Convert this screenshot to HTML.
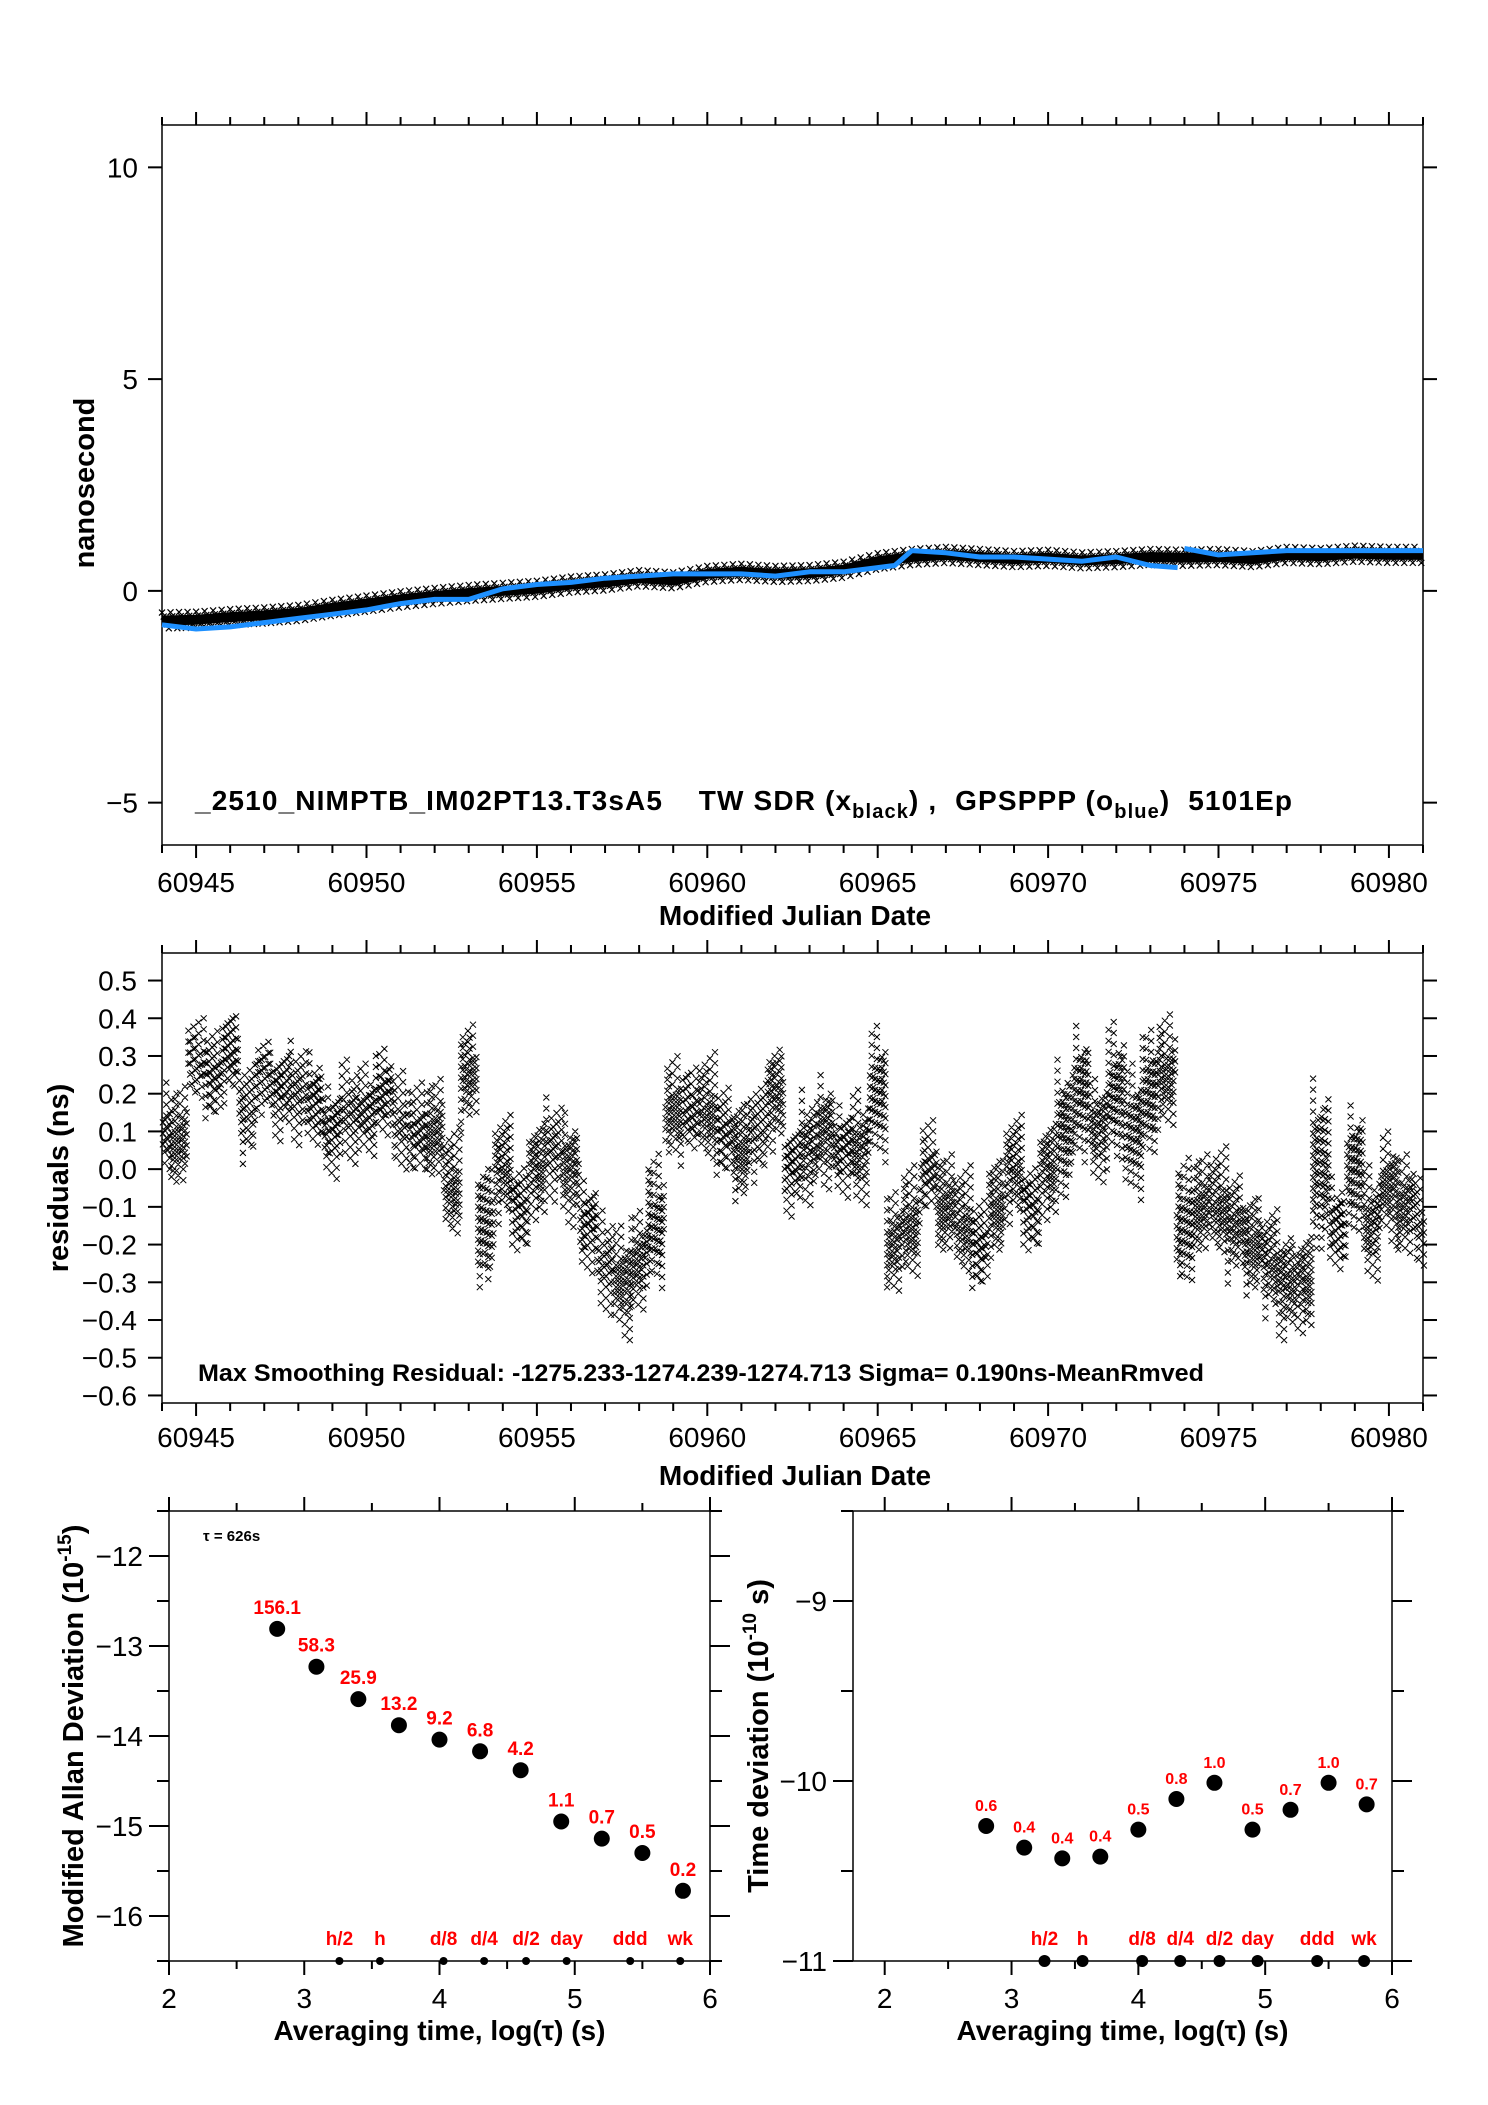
<!DOCTYPE html>
<html><head><meta charset="utf-8"><style>
html,body{margin:0;padding:0;background:#fff}
svg{display:block;font-family:"Liberation Sans",Arial,sans-serif}
</style></head><body>
<svg id="chart" xmlns="http://www.w3.org/2000/svg" width="1488" height="2105" viewBox="0 0 1488 2105">
<rect width="1488" height="2105" fill="#fff"/>
</svg>
<script>
// ---- data ----
const blackMJD = [60944,60945,60946,60947,60948,60949,60950,60951,60952,60953,60954,60955,60956,60957,60958,60959,60960,60961,60962,60963,60964,60965,60966,60967,60968,60969,60970,60971,60972,60973,60974,60975,60976,60977,60978,60979,60980,60981];
const blackVal = [-0.7,-0.68,-0.62,-0.58,-0.52,-0.4,-0.3,-0.2,-0.12,-0.05,0.0,0.05,0.15,0.2,0.3,0.25,0.4,0.45,0.4,0.42,0.5,0.7,0.8,0.85,0.8,0.75,0.78,0.72,0.75,0.8,0.78,0.8,0.75,0.85,0.82,0.88,0.85,0.85];
const blueMJD = [60944,60945,60946,60947,60948,60949,60950,60951,60952,60953,60954,60955,60956,60957,60958,60959,60960,60961,60962,60963,60964,60965,60965.5,60966,60967,60968,60969,60970,60971,60972,60973,60973.8,null,60974,60975,60976,60977,60978,60979,60980,60981];
const blueVal = [-0.8,-0.9,-0.85,-0.75,-0.65,-0.55,-0.45,-0.3,-0.2,-0.2,0.05,0.15,0.2,0.3,0.35,0.4,0.4,0.4,0.35,0.45,0.45,0.55,0.6,0.95,0.9,0.8,0.8,0.75,0.7,0.8,0.6,0.55,null,1.0,0.85,0.9,0.95,0.95,0.95,0.95,0.95];
const residMJD = [];
for (let m = 60944; m <= 60981.001; m += 0.5) residMJD.push(m);
const residCenter = [0.1,0.08,0.28,0.25,0.3,0.15,0.25,0.2,0.2,0.18,0.1,0.15,0.15,0.2,0.12,0.1,0.1,-0.05,0.25,-0.15,0.0,-0.1,0.0,0.05,0.0,-0.15,-0.25,-0.3,-0.25,-0.15,0.15,0.15,0.15,0.1,0.05,0.1,0.2,0.0,0.05,0.1,0.05,0.05,0.2,-0.2,-0.15,0.0,-0.1,-0.15,-0.2,-0.1,0.0,-0.1,0.0,0.1,0.2,0.1,0.2,0.1,0.2,0.25,-0.15,-0.1,-0.1,-0.15,-0.2,-0.25,-0.3,-0.3,0.0,-0.15,0.0,-0.15,-0.05,-0.1,-0.15];
const residSpread = [0.1,0.12,0.08,0.1,0.1,0.1,0.08,0.1,0.1,0.1,0.1,0.1,0.1,0.1,0.1,0.1,0.12,0.12,0.12,0.15,0.12,0.1,0.12,0.1,0.12,0.1,0.1,0.12,0.12,0.15,0.12,0.1,0.12,0.1,0.12,0.1,0.12,0.1,0.12,0.12,0.1,0.12,0.15,0.12,0.12,0.1,0.12,0.12,0.1,0.12,0.12,0.1,0.12,0.15,0.15,0.12,0.15,0.15,0.15,0.12,0.15,0.12,0.12,0.12,0.12,0.12,0.12,0.12,0.2,0.1,0.15,0.12,0.12,0.12,0.1];
const mdevX = [2.80,3.09,3.40,3.70,4.00,4.30,4.60,4.90,5.20,5.50,5.80];
const mdevY = [-12.81,-13.23,-13.59,-13.88,-14.04,-14.17,-14.38,-14.95,-15.14,-15.30,-15.72];
const mdevLbl = ["156.1","58.3","25.9","13.2","9.2","6.8","4.2","1.1","0.7","0.5","0.2"];
const tdevX = [2.80,3.10,3.40,3.70,4.00,4.30,4.60,4.90,5.20,5.50,5.80];
const tdevY = [-10.25,-10.37,-10.43,-10.42,-10.27,-10.10,-10.01,-10.27,-10.16,-10.01,-10.13];
const tdevLbl = ["0.6","0.4","0.4","0.4","0.5","0.8","1.0","0.5","0.7","1.0","0.7"];
const markX = [3.26,3.56,4.03,4.33,4.64,4.94,5.41,5.78];
const markLbl = ["h/2","h","d/8","d/4","d/2","day","ddd","wk"];
const mjdTicks = [60945,60950,60955,60960,60965,60970,60975,60980];
const nsTicks = [10,5,0,-5];
const resTicks = [0.5,0.4,0.3,0.2,0.1,0.0,-0.1,-0.2,-0.3,-0.4,-0.5,-0.6];
const logTicks = [2,3,4,5,6];
const mdevTicks = [-12,-13,-14,-15,-16];
const tdevTicks = [-9,-10,-11];

// ---- helpers ----
const NS = "http://www.w3.org/2000/svg";
const svg = document.getElementById("chart");
function el(tag, attrs, parent) {
  const e = document.createElementNS(NS, tag);
  for (const k in attrs) e.setAttribute(k, attrs[k]);
  (parent || svg).appendChild(e);
  return e;
}
function scale(d0, d1, r0, r1) { return v => r0 + (v - d0) / (d1 - d0) * (r1 - r0); }
function fmtMinus(v, dec) { const s = dec ? Math.abs(v).toFixed(dec) : String(Math.abs(v)); return (v < 0 ? "\u2212" : "") + s; }

function panel(name, x0, x1, y0, y1) {
  const g = el("g", {});
  
  
  const r = el("rect", {x: x0, y: y0, width: x1 - x0, height: y1 - y0, fill: "none", stroke: "#000", "stroke-width": 1.5}, g);
  
  
  return g;
}
function tick(g, x1, y1, x2, y2, w) {
  const t = el("line", {x1, y1, x2, y2, stroke: "#000", "stroke-width": w || 2}, g);
  
  
}
function label(g, x, y, txt, opts, name) {
  const t = el("text", Object.assign({x, y, "font-size": 28, fill: "#000"}, opts || {}), g);
  t.textContent = txt;
  
  
  return t;
}

// ================= Panel 1: time series =================
{
  const X0 = 162, X1 = 1423, Y0 = 125, Y1 = 845;
  const sx = scale(60944, 60981, X0, X1), sy = scale(-6, 11, Y1, Y0);
  const g = panel("time-series-panel", X0, X1, Y0, Y1);
  for (let d = 60944; d <= 60981; d++) {
    const maj = d % 5 === 0, L = maj ? 13 : 8;
    tick(g, sx(d), Y0, sx(d), Y0 - L);
    tick(g, sx(d), Y1, sx(d), Y1 + L);
  }
  mjdTicks.forEach(v => label(g, sx(v), 892, String(v), {"text-anchor": "middle"}, 'x-tick-label'));
  nsTicks.forEach(v => {
    tick(g, X0, sy(v), X0 - 14, sy(v));
    tick(g, X1, sy(v), X1 + 14, sy(v));
    label(g, 138, sy(v) + 10, fmtMinus(v), {"text-anchor": "end"}, 'y-tick-label');
  });
  label(g, 795, 925, "Modified Julian Date", {"text-anchor": "middle", "font-weight": "bold", "font-size": 28}, 'x-axis-title');
  label(g, 0, 0, "nanosecond", {"text-anchor": "middle", "font-weight": "bold", "font-size": 29, transform: "translate(94,483) rotate(-90)"}, 'y-axis-title');
  // black band
  const bp = blackMJD.map((m, i) => sx(m).toFixed(1) + "," + sy(blackVal[i]).toFixed(1)).join(" ");
  const band = el("polyline", {points: bp, fill: "none", stroke: "#000", "stroke-width": 10, "stroke-linejoin": "round"}, g);
  
  
  let cp = "";
  blackMJD.forEach((m, i) => {
    if (i === blackMJD.length - 1) return;
    for (let k = 0; k < 20; k++) {
      const mm = m + k * 0.05, v = blackVal[i] + (blackVal[i + 1] - blackVal[i]) * k / 20;
      const x = sx(mm), y = sy(v) + ((k % 5) - 2) * 4;
      cp += `M${x - 3},${y - 3}L${x + 3},${y + 3}M${x - 3},${y + 3}L${x + 3},${y - 3}`;
    }
  });
  const cr = el("path", {d: cp, stroke: "#000", "stroke-width": 1.2, fill: "none"}, g);
  
  
  let d = "", pen = false;
  blueMJD.forEach((m, i) => {
    if (m === null) { pen = false; return; }
    d += (pen ? "L" : "M") + sx(m).toFixed(1) + "," + sy(blueVal[i]).toFixed(1);
    pen = true;
  });
  const bl = el("path", {d, stroke: "#1e90ff", "stroke-width": 5, fill: "none", "stroke-linejoin": "round"}, g);
  
  
  const an = el("text", {x: 195, y: 810, "font-size": 28, "font-weight": "bold", textLength: 1097, lengthAdjust: "spacing"}, g);
  
  
  an.innerHTML = '_2510_NIMPTB_IM02PT13.T3sA5\u00a0\u00a0\u00a0\u00a0TW SDR (x<tspan font-size="20" dy="8">black</tspan><tspan dy="-8">) ,\u00a0\u00a0GPSPPP (o</tspan><tspan font-size="20" dy="8">blue</tspan><tspan dy="-8">)\u00a0\u00a05101Ep</tspan>';
}

// ================= Panel 2: residuals =================
{
  const X0 = 162, X1 = 1423, Y0 = 953, Y1 = 1403;
  const sx = scale(60944, 60981, X0, X1), sy = scale(-0.62, 0.573, Y1, Y0);
  const g = panel("residuals-panel", X0, X1, Y0, Y1);
  for (let dd = 60944; dd <= 60981; dd++) {
    const maj = dd % 5 === 0, L = maj ? 13 : 8;
    tick(g, sx(dd), Y0, sx(dd), Y0 - L);
    tick(g, sx(dd), Y1, sx(dd), Y1 + L);
  }
  mjdTicks.forEach(v => label(g, sx(v), 1447, String(v), {"text-anchor": "middle"}, 'x-tick-label'));
  resTicks.forEach(v => {
    tick(g, X0, sy(v), X0 - 14, sy(v));
    tick(g, X1, sy(v), X1 + 14, sy(v));
    label(g, 137, sy(v) + 10, fmtMinus(v, 1), {"text-anchor": "end"}, 'y-tick-label');
  });
  label(g, 795, 1485, "Modified Julian Date", {"text-anchor": "middle", "font-weight": "bold", "font-size": 28}, 'x-axis-title');
  label(g, 0, 0, "residuals (ns)", {"text-anchor": "middle", "font-weight": "bold", "font-size": 29, transform: "translate(68,1178) rotate(-90)"}, 'y-axis-title');
  residMJD.forEach((m, i) => {
    const c = residCenter[i], s = residSpread[i];
    let p = "";
    for (let k = 0; k < 10; k++) {
      if (m - 0.25 + k * 0.05 < 60944 || m - 0.25 + k * 0.05 > 60981) continue;
      const x = sx(m - 0.225 + k * 0.05);
      const f = 0.45 + 0.55 * ((k * 7 + i * 3) % 5) / 4;
      const sh = ((k * 5 + i) % 3 - 1) * 0.04;
      const top = sy(c + sh + s * f), bot = sy(c + sh - s * f);
      const off = (k % 3) * 4;
      for (let y = top + off; y <= bot; y += 11) {
        p += `M${(x - 3).toFixed(1)},${(y - 3).toFixed(1)}l6,6m-6,0l6,-6`;
      }
    }
    const pth = el("path", {d: p, stroke: "#000", "stroke-width": 1, fill: "none"}, g);
    
    
  });
  const an = el("text", {x: 198, y: 1381, "font-size": 24, "font-weight": "bold", textLength: 1006, lengthAdjust: "spacingAndGlyphs"}, g);
  an.textContent = "Max Smoothing Residual: -1275.233-1274.239-1274.713  Sigma= 0.190ns-MeanRmved";
  
  
}

// ================= Panels 3 & 4 =================
function stabPanel(name, X0, X1, xd, yd, yTicks, xs, ys, lbls, lblSize, yTitle, ytx, markerSize) {
  const Y0 = 1511, Y1 = 1961;
  const sx = scale(xd[0], xd[1], X0, X1), sy = scale(yd[0], yd[1], Y1, Y0);
  const g = panel(name, X0, X1, Y0, Y1);
  for (let v = 2; v <= 6.001; v += 0.5) {
    const L = Number.isInteger(v) ? 14 : 8;
    tick(g, sx(v), Y0, sx(v), Y0 - L);
    tick(g, sx(v), Y1, sx(v), Y1 + L);
  }
  logTicks.forEach(v => label(g, sx(v), 2008, String(v), {"text-anchor": "middle"}, 'x-tick-label'));
  for (let v = yd[0]; v <= yd[1] + 0.001; v += 0.5) {
    const L = Number.isInteger(v) ? 20 : 12;
    tick(g, X0, sy(v), X0 - L, sy(v));
    tick(g, X1, sy(v), X1 + L, sy(v));
  }
  yTicks.forEach(v => label(g, X0 - 26, sy(v) + 10, fmtMinus(v), {"text-anchor": "end"}, 'y-tick-label'));
  label(g, (X0 + X1) / 2, 2040, "", {"text-anchor": "middle", "font-weight": "bold", "font-size": 28}, 'x-axis-title').innerHTML = 'Averaging time, log(\u03c4) (s)';
  const tt = label(g, 0, 0, "", {"text-anchor": "middle", "font-weight": "bold", "font-size": 29, transform: `translate(${ytx},1736) rotate(-90)`}, 'y-axis-title');
  tt.innerHTML = yTitle;
  xs.forEach((x, i) => {
    const c = el("circle", {cx: sx(x), cy: sy(ys[i]), r: 8, fill: "#000"}, g);
    
    
    label(g, sx(x), sy(ys[i]) - 15, lbls[i], {"text-anchor": "middle", "font-weight": "bold", "font-size": lblSize, fill: "#f00"}, 'point-value-label');
  });
  markX.forEach((x, i) => {
    const c = el("circle", {cx: sx(x), cy: Y1, r: markerSize, fill: "#000"}, g);
    
    
    label(g, sx(x), Y1 - 16, markLbl[i], {"text-anchor": "middle", "font-weight": "bold", "font-size": 19, fill: "#f00"}, 'interval-label');
  });
  return {g, sx, sy};
}
const p3 = stabPanel("mdev-panel", 169, 710, [2, 6], [-16.5, -11.5], mdevTicks, mdevX, mdevY, mdevLbl, 19,
  'Modified Allan Deviation (10<tspan font-size="19" dy="-12">-15</tspan><tspan dy="12">)</tspan>', 83, 4);
label(p3.g, 203, 1541, "\u03c4 = 626s", {"font-size": 15, "font-weight": "bold"}, 'tau-note');
stabPanel("tdev-panel", 853, 1392, [1.75, 6], [-11, -8.5], tdevTicks, tdevX, tdevY, tdevLbl, 16,
  'Time deviation (10<tspan font-size="19" dy="-12">-10</tspan><tspan dy="12"> s)</tspan>', 768, 6);
</script>
</body></html>
